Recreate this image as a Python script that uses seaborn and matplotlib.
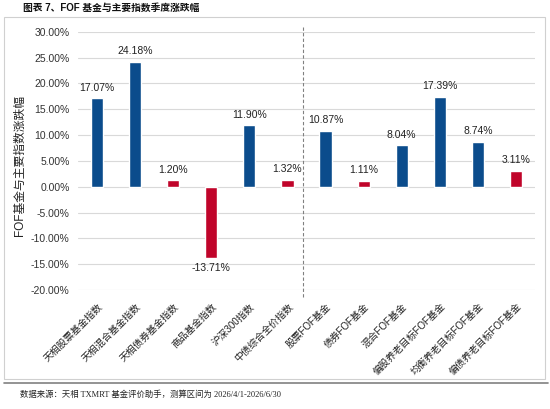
import matplotlib
matplotlib.use("Agg")
import matplotlib.pyplot as plt
import seaborn as sns
import pandas as pd
from matplotlib.patches import Rectangle
from matplotlib.lines import Line2D

categories = ["天相股票基金指数", "天相混合基金指数", "天相债券基金指数", "商品基金指数",
              "沪深300指数", "中债综合全价指数", "股票FOF基金", "债券FOF基金",
              "混合FOF基金", "偏股养老目标FOF基金", "均衡养老目标FOF基金", "偏债养老目标FOF基金"]
values = [0.1707, 0.2418, 0.0120, -0.1371, 0.1190, 0.0132,
          0.1087, 0.0111, 0.0804, 0.1739, 0.0874, 0.0311]
groups = ["a", "a", "b", "b", "a", "b", "a", "b", "a", "a", "a", "b"]
yticks = [-0.20, -0.15, -0.10, -0.05, 0.0, 0.05, 0.10, 0.15, 0.20, 0.25, 0.30]

title = "图表 7、FOF 基金与主要指数季度涨跌幅"
ylabel = "FOF基金与主要指数涨跌幅"
source = "数据来源：天相 TXMRT 基金评价助手，测算区间为 2026/4/1-2026/6/30"

sns.set_theme(style="white")
plt.rcParams["font.family"] = ["Liberation Sans", "Noto Sans CJK SC", "DejaVu Sans"]

df = pd.DataFrame({"cat": categories, "val": values, "grp": groups})

W, H = 550, 409
fig = plt.figure(figsize=(W / 100, H / 100), dpi=100)
ax = fig.add_axes([78 / W, 1 - 290 / H, (535 - 78) / W, (290 - 31.7) / H])

palette = {"a": "#0B4C8C", "b": "#C0042A"}
sns.barplot(data=df, x="cat", y="val", hue="grp", palette=palette, dodge=False,
            width=0.32, legend=False, ax=ax, saturation=1)

for cont in ax.containers:
    labels = [f"{b.get_height()*100:.2f}%" if b.get_height() == b.get_height() else "" for b in cont]
    ax.bar_label(cont, labels=labels, padding=4, fontsize=7.5, color="#222222")

ax.set_ylim(-0.20, 0.30)
ax.set_xlim(-0.5, 11.5)
ax.set_yticks(yticks)
ax.set_yticklabels([f"{t*100:.2f}%" for t in yticks], fontsize=7.5, color="#333333")
ax.yaxis.grid(True, color="#d9d9d9", lw=0.8)
ax.set_axisbelow(True)
for s in ax.spines.values():
    s.set_visible(False)
ax.tick_params(axis="y", length=0, pad=6)
ax.tick_params(axis="x", length=0, pad=8)
ax.set_xticks(range(len(categories)))
ax.set_xticklabels(categories, rotation=45, ha="right", rotation_mode="anchor",
                   fontsize=7, color="#222222")
ax.set_xlabel("")
ax.set_ylabel("")

ax.axvline(5.4, ymin=-0.027, ymax=1.026, color="#808080", lw=0.8,
           linestyle=(0, (3, 2)), clip_on=False)

fig.text(20 / W, 1 - 165 / H, ylabel, rotation=90, ha="center", va="center",
         fontsize=8.5, color="#222222")

fig.text(23 / W, 1 - 8 / H, title, ha="left", va="center", fontsize=7,
         fontweight="bold", color="#111111")

fig.patches.append(Rectangle((4 / W, 1 - 379 / H), (545 - 4) / W, (379 - 17) / H,
                             transform=fig.transFigure, fill=False,
                             edgecolor="#d0d0d0", lw=0.8))
fig.lines.append(Line2D([4 / W, 548 / W], [1 - 383 / H, 1 - 383 / H],
                        transform=fig.transFigure, color="#808080", lw=1.2))
fig.text(20 / W, 1 - 395 / H, source, ha="left", va="center", fontsize=6,
         family=["Liberation Serif", "Noto Sans CJK SC"], color="#222222")

fig.savefig("out.png", dpi=100)
